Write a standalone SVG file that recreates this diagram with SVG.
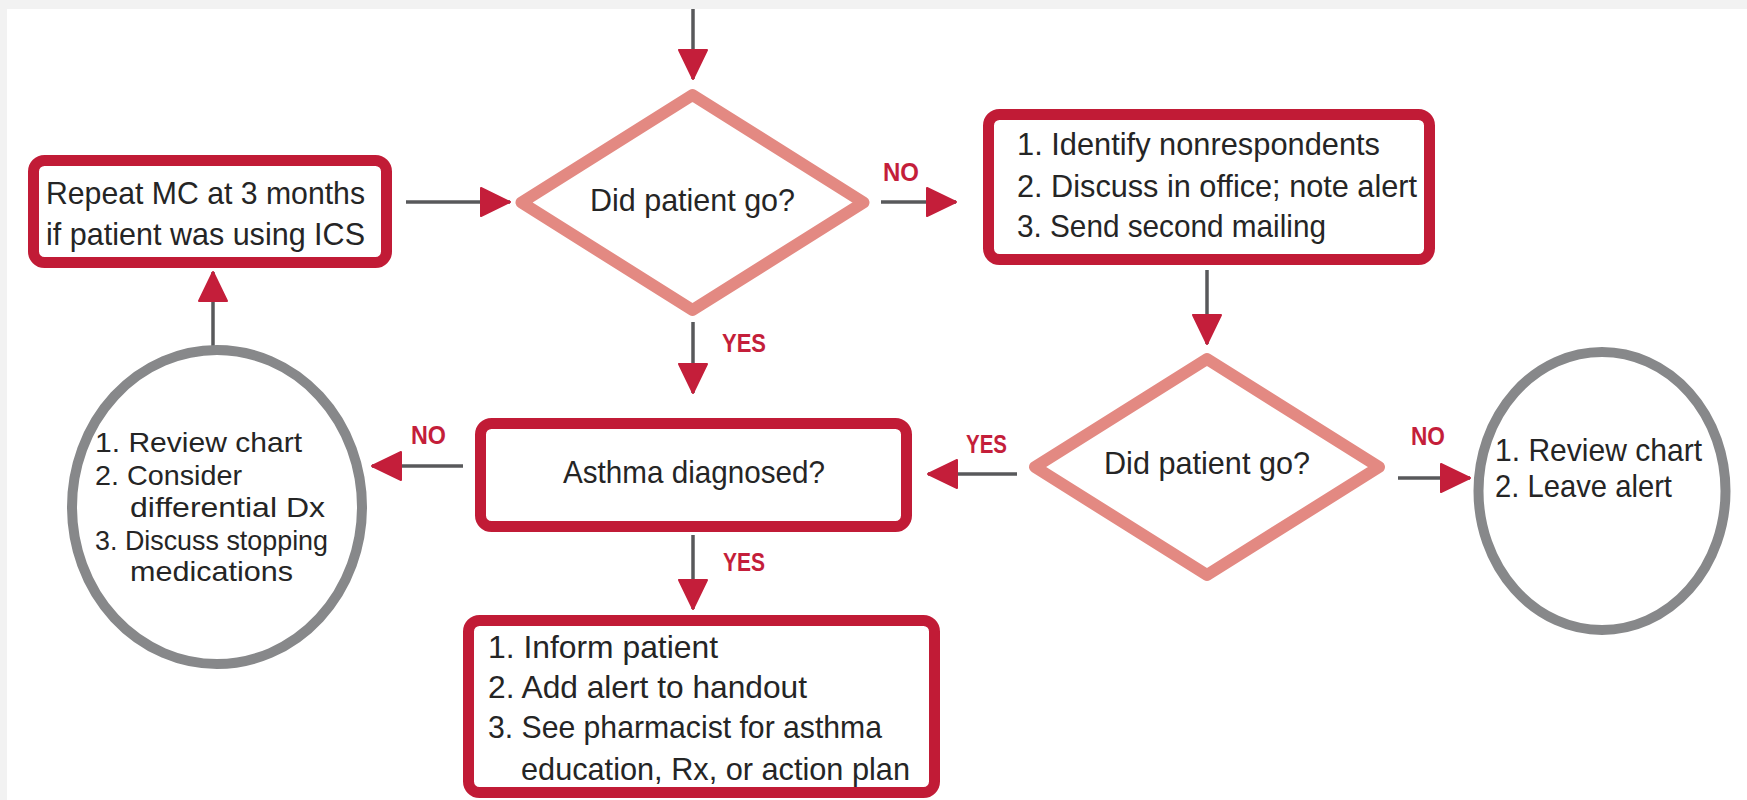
<svg xmlns="http://www.w3.org/2000/svg" width="1747" height="800" viewBox="0 0 1747 800">
  <style>
    .box { fill: #ffffff; stroke: #c11b36; stroke-width: 11; }
    .dia { fill: #ffffff; stroke: #e38982; stroke-width: 12; stroke-linejoin: round; }
    .circ { fill: #ffffff; stroke: #87888a; stroke-width: 10; }
    .txt { font-family: "Liberation Sans", Arial, sans-serif; font-size: 31.5px; fill: #252525; }
    .small { font-size: 28.5px; }
    .lbl { font-family: "Liberation Sans", Arial, sans-serif; font-size: 26px; font-weight: bold; fill: #c41e3a; }
    .conn { stroke: #58595b; stroke-width: 3.5; fill: none; marker-end: url(#arrow); }
  </style>
  <defs>
    <marker id="arrow" markerUnits="userSpaceOnUse" markerWidth="32" markerHeight="32" refX="29" refY="14" orient="auto" viewBox="-1 -1 32 32">
      <path d="M0,0 L29,14 L0,28 Z" fill="#c41e3a" stroke="#c41e3a" stroke-width="2" stroke-linejoin="round"/>
    </marker>
  </defs>

  <rect x="0" y="0" width="1747" height="800" fill="#f2f2f2"/>
  <rect x="7" y="9" width="1740" height="791" fill="#ffffff"/>

  <g id="connectors">
    <line class="conn" x1="693" y1="9" x2="693" y2="79"/>
    <line class="conn" x1="406" y1="202" x2="510" y2="202"/>
    <line class="conn" x1="881" y1="202" x2="956" y2="202"/>
    <line class="conn" x1="693" y1="322" x2="693" y2="393"/>
    <line class="conn" x1="1207" y1="270" x2="1207" y2="344"/>
    <line class="conn" x1="1017" y1="474" x2="928" y2="474"/>
    <line class="conn" x1="1398" y1="478" x2="1470" y2="478"/>
    <line class="conn" x1="463" y1="466" x2="372" y2="466"/>
    <line class="conn" x1="693" y1="535" x2="693" y2="609"/>
    <line class="conn" x1="213" y1="347" x2="213" y2="272"/>
    <text class="lbl" x="883" y="181" textLength="36" lengthAdjust="spacingAndGlyphs">NO</text>
    <text class="lbl" x="722" y="352" textLength="44" lengthAdjust="spacingAndGlyphs">YES</text>
    <text class="lbl" x="723" y="571" textLength="42" lengthAdjust="spacingAndGlyphs">YES</text>
    <text class="lbl" x="966" y="453" textLength="41" lengthAdjust="spacingAndGlyphs">YES</text>
    <text class="lbl" x="411" y="444" textLength="35" lengthAdjust="spacingAndGlyphs">NO</text>
    <text class="lbl" x="1411" y="445" textLength="34" lengthAdjust="spacingAndGlyphs">NO</text>
  </g>

  <g id="repeat-mc">
    <rect class="box" x="33.5" y="160.5" width="353" height="102" rx="11"/>
    <text class="txt" x="46" y="204" textLength="319" lengthAdjust="spacingAndGlyphs">Repeat MC at 3 months</text>
    <text class="txt" x="46" y="245" textLength="319" lengthAdjust="spacingAndGlyphs">if patient was using ICS</text>
  </g>

  <g id="did-go-1">
    <polygon class="dia" points="692.5,95 863.5,202.5 692.5,310 521.5,202.5"/>
    <text class="txt" x="692.5" y="211" text-anchor="middle" textLength="205" lengthAdjust="spacingAndGlyphs">Did patient go?</text>
  </g>

  <g id="nonrespondents">
    <rect class="box" x="988.5" y="114.5" width="441" height="145" rx="11"/>
    <text class="txt" x="1017" y="155" textLength="363" lengthAdjust="spacingAndGlyphs">1. Identify nonrespondents</text>
    <text class="txt" x="1017" y="197" textLength="400" lengthAdjust="spacingAndGlyphs">2. Discuss in office; note alert</text>
    <text class="txt" x="1017" y="237" textLength="309" lengthAdjust="spacingAndGlyphs">3. Send second mailing</text>
  </g>

  <g id="did-go-2">
    <polygon class="dia" points="1207,359 1379,467 1207,575 1035,467"/>
    <text class="txt" x="1207" y="474" text-anchor="middle" textLength="206" lengthAdjust="spacingAndGlyphs">Did patient go?</text>
  </g>

  <g id="asthma-diagnosed">
    <rect class="box" x="480.5" y="423.5" width="426" height="103" rx="11"/>
    <text class="txt" x="563" y="483" textLength="262" lengthAdjust="spacingAndGlyphs">Asthma diagnosed?</text>
  </g>

  <g id="inform-patient">
    <rect class="box" x="468.5" y="620.5" width="466" height="172" rx="11"/>
    <text class="txt" x="488" y="658" textLength="230" lengthAdjust="spacingAndGlyphs">1. Inform patient</text>
    <text class="txt" x="488" y="698" textLength="319" lengthAdjust="spacingAndGlyphs">2. Add alert to handout</text>
    <text class="txt" x="488" y="738" textLength="394" lengthAdjust="spacingAndGlyphs">3. See pharmacist for asthma</text>
    <text class="txt" x="521" y="780" textLength="389" lengthAdjust="spacingAndGlyphs">education, Rx, or action plan</text>
  </g>

  <g id="review-differential">
    <ellipse class="circ" cx="217" cy="507" rx="145" ry="157"/>
    <text class="txt small" x="95" y="452" textLength="207" lengthAdjust="spacingAndGlyphs">1. Review chart</text>
    <text class="txt small" x="95" y="485" textLength="147" lengthAdjust="spacingAndGlyphs">2. Consider</text>
    <text class="txt small" x="130" y="517" textLength="195" lengthAdjust="spacingAndGlyphs">differential Dx</text>
    <text class="txt small" x="95" y="550" textLength="233" lengthAdjust="spacingAndGlyphs">3. Discuss stopping</text>
    <text class="txt small" x="130" y="581" textLength="163" lengthAdjust="spacingAndGlyphs">medications</text>
  </g>

  <g id="review-alert">
    <ellipse class="circ" cx="1602" cy="491" rx="123.5" ry="139"/>
    <text class="txt" x="1495" y="461" textLength="207" lengthAdjust="spacingAndGlyphs">1. Review chart</text>
    <text class="txt" x="1495" y="497" textLength="177" lengthAdjust="spacingAndGlyphs">2. Leave alert</text>
  </g>
</svg>
